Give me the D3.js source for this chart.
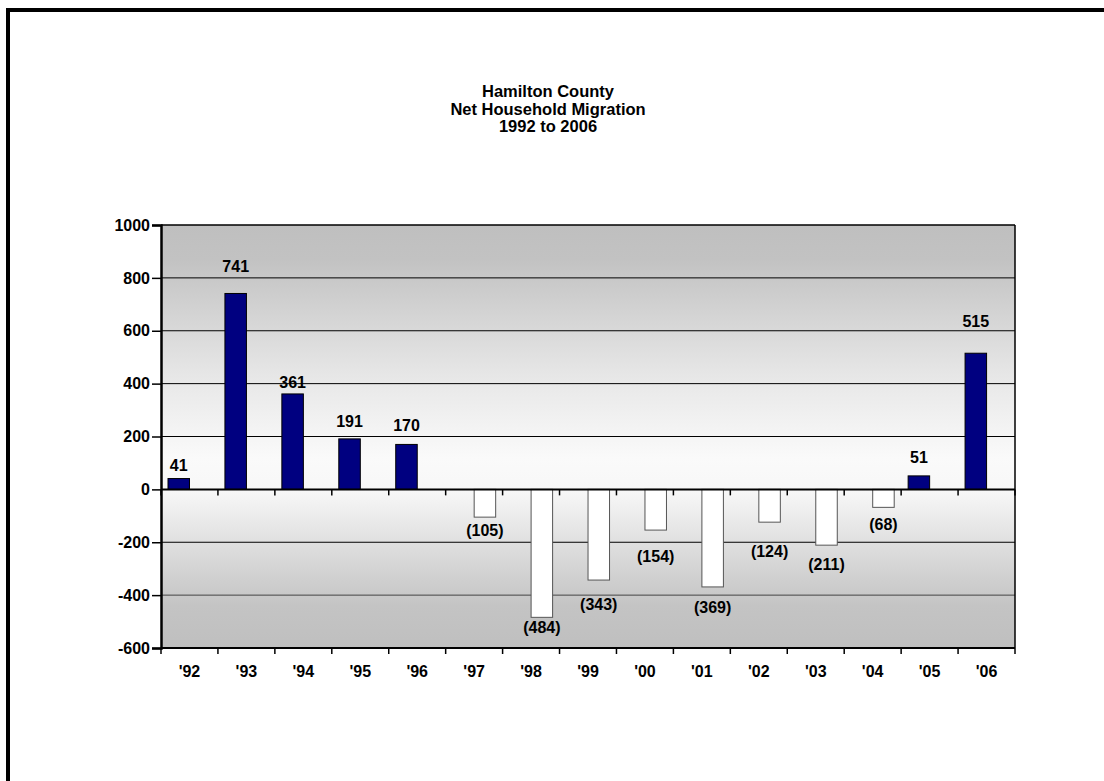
<!DOCTYPE html>
<html>
<head>
<meta charset="utf-8">
<script src="https://cdn.jsdelivr.net/npm/d3@7"></script>
<style>
  body { margin: 0; background: #fff; }
  text { font-family: Arial, "Liberation Sans", sans-serif; font-weight: bold; fill: #000; }
</style>
</head>
<body>
<div id="chart"></div>
<script>
// data
var years = ["'92", "'93", "'94", "'95", "'96", "'97", "'98", "'99", "'00", "'01", "'02", "'03", "'04", "'05", "'06"];
var migration = [41, 741, 361, 191, 170, -105, -484, -343, -154, -369, -124, -211, -68, 51, 515];
var yTicks = [-600, -400, -200, 0, 200, 400, 600, 800, 1000];
var titleLines = ["Hamilton County", "Net Household Migration", "1992 to 2006"];

// gap between bar end and its label (the labels were nudged by hand in the original)
var labelGap = [8, 21, 6, 12, 13, 7, 4, 18, 20, 15, 23, 13, 11, 13, 26];

var svgWidth = 1104;
var svgHeight = 781;

var plot = { left: 161, right: 1015, top: 225, bottom: 648 };

var svg = d3.select("#chart")
  .append("svg")
  .attr("width", svgWidth)
  .attr("height", svgHeight);

// outer frame, runs off the right and bottom of the picture
svg.append("rect")
  .attr("x", 8)
  .attr("y", 10)
  .attr("width", 1200)
  .attr("height", 900)
  .attr("fill", "none")
  .attr("stroke", "#000")
  .attr("stroke-width", 4);

// title
svg.append("g")
  .selectAll("text")
  .data(titleLines)
  .enter()
  .append("text")
  .attr("x", 548)
  .attr("y", (d, i) => 97 + i * 17.5)
  .attr("text-anchor", "middle")
  .attr("font-size", "16.5px")
  .text(d => d);

var xScale = d3.scaleBand()
  .domain(years)
  .range([plot.left, plot.right]);

var subScale = d3.scaleBand()
  .domain(["pos", "neg"])
  .range([7, 50]);

var yScale = d3.scaleLinear()
  .domain([-600, 1000])
  .range([plot.bottom, plot.top]);

// plot background gradient
var grad = svg.append("defs").append("linearGradient")
  .attr("id", "bg")
  .attr("x1", 0).attr("y1", 0).attr("x2", 0).attr("y2", 1);
[[0, "#bfbfbf"], [0.08, "#c2c2c2"], [0.35, "#e6e6e6"], [0.55, "#fafafa"], [0.63, "#f7f7f7"],
 [0.78, "#dadada"], [0.9, "#c4c4c4"], [1, "#bfbfbf"]].forEach(function(s) {
  grad.append("stop").attr("offset", s[0]).attr("stop-color", s[1]);
});

svg.append("rect")
  .attr("x", plot.left)
  .attr("y", plot.top)
  .attr("width", plot.right - plot.left)
  .attr("height", plot.bottom - plot.top)
  .attr("fill", "url(#bg)");

// gridlines
svg.append("g")
  .selectAll("line")
  .data(yTicks.filter(d => d !== 0 && d !== -600))
  .enter()
  .append("line")
  .attr("x1", plot.left)
  .attr("x2", plot.right)
  .attr("y1", d => yScale(d))
  .attr("y2", d => yScale(d))
  .attr("stroke", d => d === -400 ? "#444" : "#000")
  .attr("stroke-width", d => d === 1000 ? 1.5 : 1);

// bars
var bars = svg.append("g")
  .selectAll("rect")
  .data(years)
  .enter()
  .append("rect")
  .attr("x", (d, i) => xScale(d) + subScale(migration[i] >= 0 ? "pos" : "neg"))
  .attr("width", subScale.bandwidth())
  .attr("y", (d, i) => yScale(Math.max(0, migration[i])))
  .attr("height", (d, i) => Math.abs(yScale(migration[i]) - yScale(0)))
  .attr("fill", (d, i) => migration[i] >= 0 ? "#000080" : "#fff")
  .attr("stroke", (d, i) => migration[i] >= 0 ? "#000" : "#555")
  .attr("stroke-width", 1);

// right and bottom border of the plot
svg.append("line")
  .attr("x1", plot.right).attr("x2", plot.right)
  .attr("y1", plot.top).attr("y2", plot.bottom)
  .attr("stroke", "#000").attr("stroke-width", 1.5);

svg.append("line")
  .attr("x1", plot.left).attr("x2", plot.right)
  .attr("y1", plot.bottom).attr("y2", plot.bottom)
  .attr("stroke", "#000").attr("stroke-width", 2);

// zero line
svg.append("line")
  .attr("x1", plot.left).attr("x2", plot.right)
  .attr("y1", yScale(0)).attr("y2", yScale(0))
  .attr("stroke", "#000").attr("stroke-width", 2);

// category ticks at the band edges, on the zero line and at the bottom
var edges = years.map(d => xScale(d)).concat([plot.right]);
[yScale(0), plot.bottom].forEach(function(y0) {
  svg.append("g")
    .selectAll("line")
    .data(edges)
    .enter()
    .append("line")
    .attr("x1", d => d).attr("x2", d => d)
    .attr("y1", y0).attr("y2", y0 + 6)
    .attr("stroke", "#000")
    .attr("stroke-width", 1.5);
});

// y axis
var leftAxis = d3.axisLeft(yScale)
  .tickValues(yTicks)
  .tickFormat(d => String(d))
  .tickSize(9)
  .tickPadding(2);

var yAxisG = svg.append("g")
  .attr("transform", `translate(${plot.left}, 0)`)
  .call(leftAxis);
yAxisG.select(".domain").attr("stroke", "#000").attr("stroke-width", 2.5);
yAxisG.selectAll(".tick line").attr("stroke", "#000").attr("stroke-width", 1.5);
yAxisG.selectAll(".tick text")
  .attr("font-size", "16px")
  .attr("font-family", "Arial, 'Liberation Sans', sans-serif")
  .attr("font-weight", "bold")
  .attr("fill", "#000");

// x labels
var bottomAxis = d3.axisBottom(xScale)
  .tickSize(0)
  .tickPadding(18);

var xAxisG = svg.append("g")
  .attr("transform", `translate(0, ${plot.bottom})`)
  .call(bottomAxis);
xAxisG.select(".domain").remove();
xAxisG.selectAll(".tick text")
  .attr("font-size", "16px")
  .attr("font-family", "Arial, 'Liberation Sans', sans-serif")
  .attr("font-weight", "bold")
  .attr("fill", "#000");

// value labels
svg.append("g")
  .selectAll("text")
  .data(years)
  .enter()
  .append("text")
  .attr("x", (d, i) => xScale(d) + subScale(migration[i] >= 0 ? "pos" : "neg") + subScale.bandwidth() / 2)
  .attr("y", function(d, i) {
    var v = migration[i];
    return v >= 0 ? yScale(v) - labelGap[i] : yScale(v) + labelGap[i] + 11.5;
  })
  .attr("text-anchor", "middle")
  .attr("font-size", "16px")
  .text((d, i) => migration[i] >= 0 ? migration[i] : "(" + Math.abs(migration[i]) + ")");
</script>
</body>
</html>
